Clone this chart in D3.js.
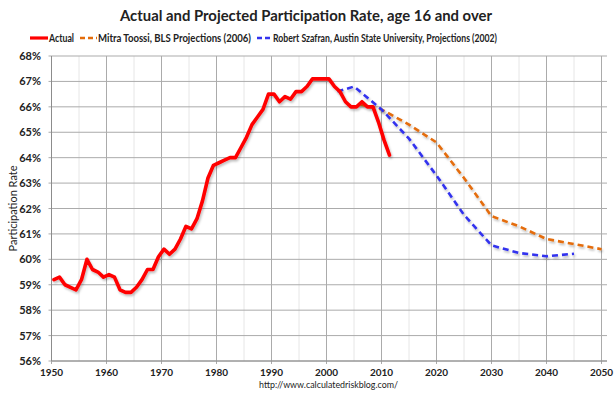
<!DOCTYPE html>
<html><head><meta charset="utf-8">
<script src="https://cdn.jsdelivr.net/npm/d3@7"></script>
<style>body{margin:0;background:#fff;} svg{display:block;}</style>
</head><body>
<svg id="c" width="615" height="395"></svg>
<script>
const actualYears = d3.range(1950, 2012);
const actualValues = [59.2,59.3,59.0,58.9,58.8,59.2,60.0,59.6,59.5,59.3,59.4,59.3,58.8,58.7,58.7,58.9,59.2,59.6,59.6,60.1,60.4,60.2,60.4,60.8,61.3,61.2,61.6,62.3,63.2,63.7,63.8,63.9,64.0,64.0,64.4,64.8,65.3,65.6,65.9,66.5,66.5,66.2,66.4,66.3,66.6,66.6,66.8,67.1,67.1,67.1,67.1,66.8,66.6,66.2,66.0,66.0,66.2,66.0,66.0,65.4,64.7,64.1];
const blsYears = [2006,2010,2015,2020,2025,2030,2035,2040,2045,2050];
const blsValues = [66.1,65.9,65.3,64.6,63.2,61.7,61.3,60.8,60.6,60.4];
const szYears = [2002,2005,2010,2015,2020,2025,2030,2035,2040,2045];
const szValues = [66.6,66.8,65.9,64.75,63.3,61.75,60.55,60.25,60.12,60.22];
const yTicks = [56,57,58,59,60,61,62,63,64,65,66,67,68];
const xTicks = [1950,1960,1970,1980,1990,2000,2010,2020,2030,2040,2050];
const xMinor = [1955,1965,1975,1985,1995,2005,2015,2025,2035,2045];
const seriesNames = ["Actual","Mitra Toossi, BLS Projections (2006)","Robert Szafran, Austin State University, Projections (2002)"];
const colors = ["#ff0000","#e46c0a","#3333ee"];
const titleText = "Actual and Projected Participation Rate, age 16 and over";
const yLabel = "Participation Rate";
const sourceText = "http://www.calculatedriskblog.com/";

const svg = d3.select("#c");
const font = "Lato, 'Open Sans', sans-serif";
const x = d3.scaleLinear().domain([1950, 2050]).range([51.5, 601.5]);
const y = d3.scaleLinear().domain([56, 68]).range([361, 56]);

const defs = svg.append("defs");
const f = defs.append("filter").attr("id","sh").attr("x","-5%").attr("y","-5%").attr("width","110%").attr("height","120%");
f.append("feDropShadow").attr("dx",1.2).attr("dy",2).attr("stdDeviation",1).attr("flood-color","#000").attr("flood-opacity",0.25);

// minor vertical gridlines
svg.append("g").selectAll("line").data(xMinor).join("line")
  .attr("x1", d=>x(d)).attr("x2", d=>x(d)).attr("y1", y(68)).attr("y2", y(56))
  .attr("stroke","#e6e6e6").attr("stroke-width",1);
// major horizontal gridlines
svg.append("g").selectAll("line").data(yTicks).join("line")
  .attr("x1", x(1950)-3).attr("x2", x(2051)).attr("y1", d=>y(d)).attr("y2", d=>y(d))
  .attr("stroke","#ababab").attr("stroke-width",1);
// major vertical gridlines
svg.append("g").selectAll("line").data(xTicks).join("line")
  .attr("x1", d=>x(d)).attr("x2", d=>x(d)).attr("y1", y(68)).attr("y2", y(56)+3)
  .attr("stroke","#ababab").attr("stroke-width",1);
// axis lines
svg.append("line").attr("x1",x(1950)).attr("x2",x(1950)).attr("y1",y(68)).attr("y2",y(56)).attr("stroke","#8c8c8c");
svg.append("line").attr("x1",x(1950)).attr("x2",x(2051)).attr("y1",y(56)).attr("y2",y(56)).attr("stroke","#8c8c8c");

// tick labels
svg.append("g").selectAll("text").data(yTicks).join("text")
  .attr("x", 41).attr("y", d=>y(d)+4).attr("text-anchor","end")
  .attr("font-family",font).attr("font-weight","bold").attr("font-size",11).attr("fill","#222")
  .text(d=>d+"%");
svg.append("g").selectAll("text").data(xTicks).join("text")
  .attr("x", d=>x(d)).attr("y", 376).attr("text-anchor","middle")
  .attr("font-family",font).attr("font-weight","bold").attr("font-size",10).attr("fill","#222")
  .text(d=>d);

// y label
svg.append("text").attr("transform",`translate(17,${(y(56)+y(68))/2}) rotate(-90)`)
  .attr("text-anchor","middle").attr("font-family",font).attr("font-size",11).attr("fill","#222")
  .text(yLabel);

// lines
const lineA = d3.line().x(d=>x(d[0]+0.45)).y(d=>y(d[1]));
const lineP = d3.line().x(d=>x(d[0])).y(d=>y(d[1]));
svg.append("path").datum(blsYears.map((d,i)=>[d,blsValues[i]]))
  .attr("d", lineP).attr("fill","none").attr("stroke",colors[1]).attr("stroke-width",2.6)
  .attr("stroke-dasharray","6,4").attr("filter","url(#sh)");
svg.append("path").datum(szYears.map((d,i)=>[d,szValues[i]]))
  .attr("d", lineP).attr("fill","none").attr("stroke",colors[2]).attr("stroke-width",2.6)
  .attr("stroke-dasharray","6,4").attr("filter","url(#sh)");
svg.append("path").datum(actualYears.map((d,i)=>[d,actualValues[i]]))
  .attr("d", lineA).attr("fill","none").attr("stroke",colors[0]).attr("stroke-width",3.6)
  .attr("stroke-linejoin","round").attr("stroke-linecap","round").attr("filter","url(#sh)");

// title
svg.append("text").attr("x",306).attr("y",21).attr("text-anchor","middle")
  .attr("font-family",font).attr("font-weight","bold").attr("font-size",15).attr("fill","#222")
  .attr("textLength",372).attr("lengthAdjust","spacingAndGlyphs").text(titleText);

// legend
const leg = [
  {x1:30,x2:48,tx:49,tw:25,dash:null,w:3.2},
  {x1:80,x2:97,tx:98,tw:153,dash:"5,3",w:2.6},
  {x1:257,x2:272,tx:273,tw:224,dash:"5,3",w:2.6}
];
leg.forEach((l,i)=>{
  svg.append("line").attr("x1",l.x1).attr("x2",l.x2).attr("y1",38).attr("y2",38)
    .attr("stroke",colors[i]).attr("stroke-width",l.w).attr("stroke-dasharray",l.dash);
  svg.append("text").attr("x",l.tx).attr("y",42).attr("font-family",font).attr("font-weight","bold")
    .attr("font-size",11).attr("fill","#222").attr("textLength",l.tw).attr("lengthAdjust","spacingAndGlyphs")
    .text(seriesNames[i]);
});

// source
svg.append("text").attr("x",259).attr("y",388).attr("font-family",font).attr("font-size",10)
  .attr("fill","#222").attr("textLength",139).attr("lengthAdjust","spacingAndGlyphs").text(sourceText);
</script>
</body></html>
